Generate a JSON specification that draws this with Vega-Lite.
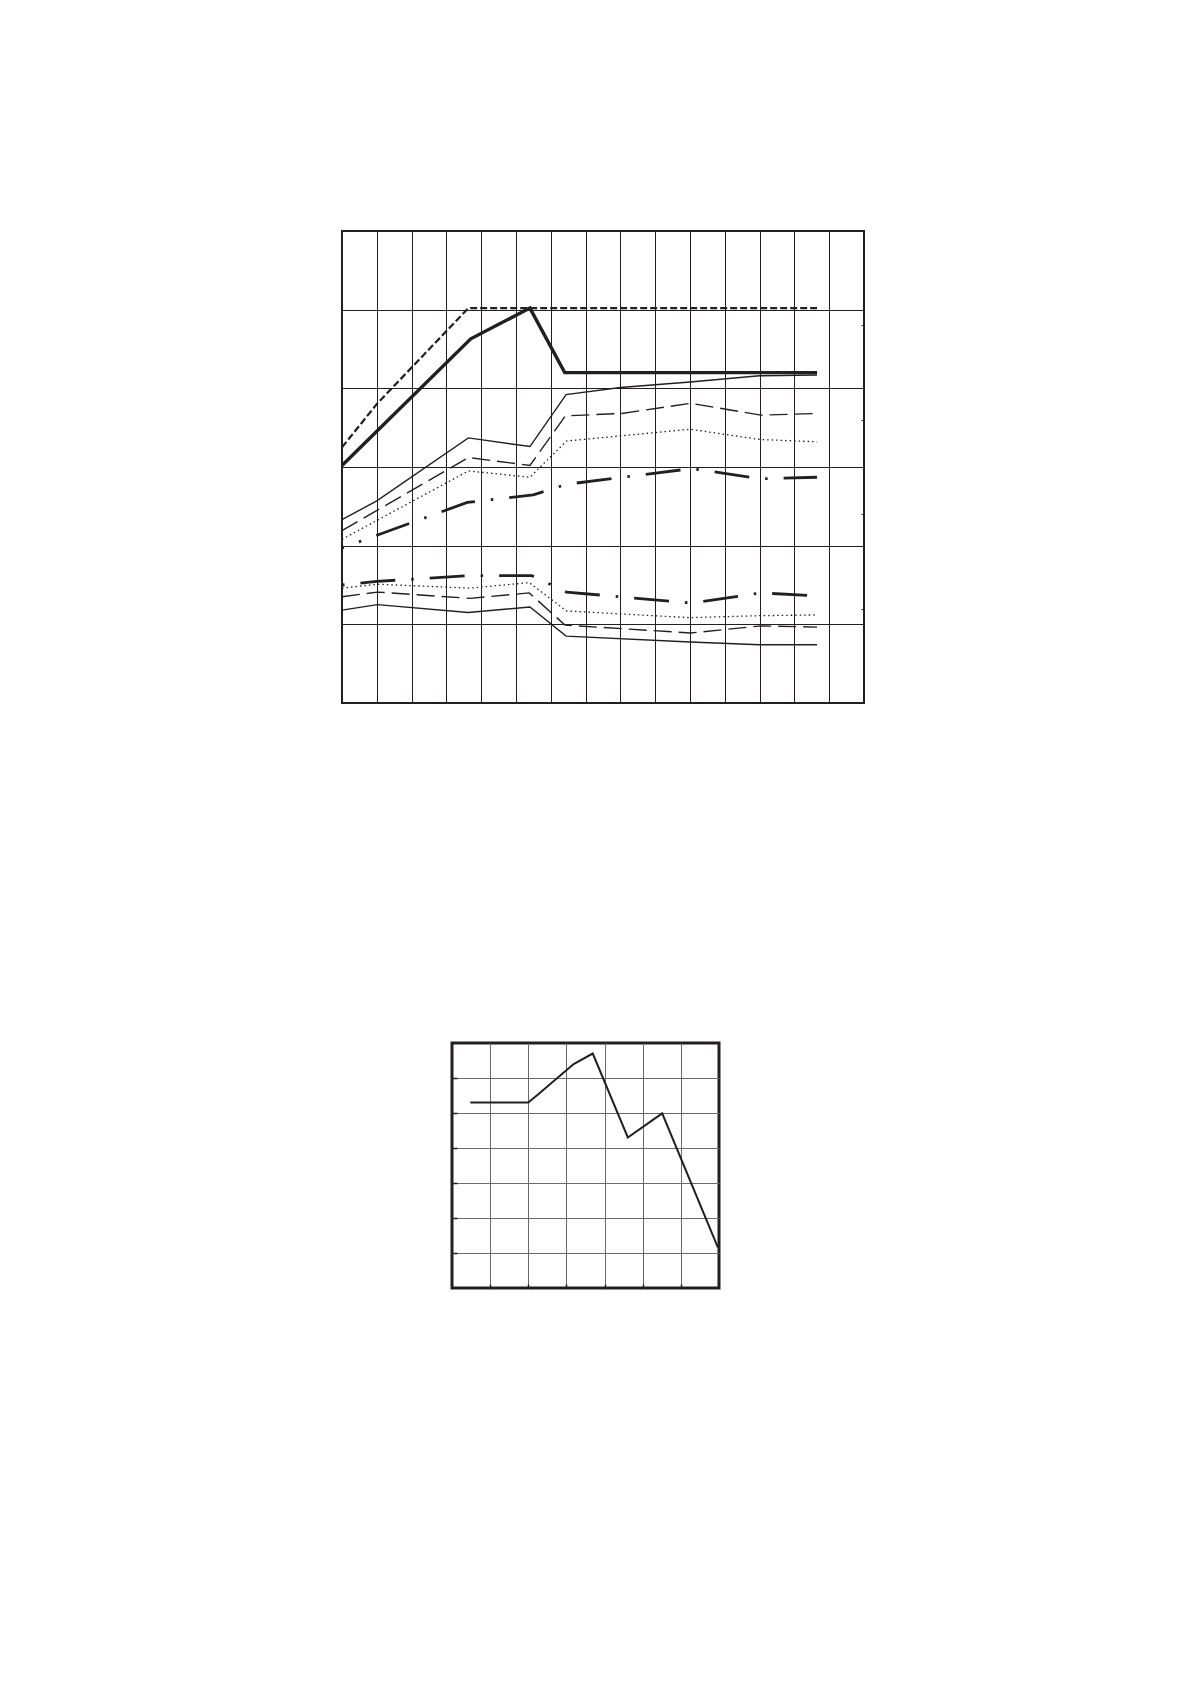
{
  "$schema": "https://vega.github.io/schema/vega-lite/v6.json",
  "background": "white",
  "padding": {"left": 334, "top": 227, "right": 0, "bottom": 0},
  "config": {"view": {"stroke": null}},
  "spacing": 334,
  "datasets": {
    "top": [
      {"s": "T", "x": 0, "y": 3.02}, {"s": "T", "x": 3.7, "y": 4.63}, {"s": "T", "x": 5.4, "y": 5.02}, {"s": "T", "x": 6.4, "y": 4.2}, {"s": "T", "x": 13.65, "y": 4.2},
      {"s": "SD", "x": 0, "y": 3.25}, {"s": "SD", "x": 1, "y": 3.8}, {"s": "SD", "x": 3.63, "y": 5.02}, {"s": "SD", "x": 13.65, "y": 5.02},
      {"s": "U1", "x": 0, "y": 2.33}, {"s": "U1", "x": 1, "y": 2.57}, {"s": "U1", "x": 3.63, "y": 3.37}, {"s": "U1", "x": 5.4, "y": 3.26}, {"s": "U1", "x": 6.44, "y": 3.92}, {"s": "U1", "x": 8, "y": 4.01}, {"s": "U1", "x": 10, "y": 4.08}, {"s": "U1", "x": 12, "y": 4.16}, {"s": "U1", "x": 13.65, "y": 4.17},
      {"s": "U2", "x": 0, "y": 2.19}, {"s": "U2", "x": 3.63, "y": 3.12}, {"s": "U2", "x": 5.4, "y": 3.02}, {"s": "U2", "x": 6.42, "y": 3.65}, {"s": "U2", "x": 8.04, "y": 3.68}, {"s": "U2", "x": 10.02, "y": 3.81}, {"s": "U2", "x": 12.03, "y": 3.66}, {"s": "U2", "x": 13.65, "y": 3.68},
      {"s": "U3", "x": 0, "y": 2.08}, {"s": "U3", "x": 3.63, "y": 2.95}, {"s": "U3", "x": 5.4, "y": 2.87}, {"s": "U3", "x": 6.45, "y": 3.33}, {"s": "U3", "x": 10, "y": 3.48}, {"s": "U3", "x": 12, "y": 3.35}, {"s": "U3", "x": 13.65, "y": 3.32},
      {"s": "U4", "x": 0, "y": 1.97}, {"s": "U4", "x": 3.6, "y": 2.55}, {"s": "U4", "x": 5.5, "y": 2.645}, {"s": "U4", "x": 6.45, "y": 2.78}, {"s": "U4", "x": 10.05, "y": 2.98}, {"s": "U4", "x": 12.05, "y": 2.85}, {"s": "U4", "x": 13.65, "y": 2.87},
      {"s": "L4", "x": 0, "y": 1.5}, {"s": "L4", "x": 1, "y": 1.545}, {"s": "L4", "x": 3.63, "y": 1.62}, {"s": "L4", "x": 5.45, "y": 1.62}, {"s": "L4", "x": 6.45, "y": 1.41}, {"s": "L4", "x": 10.05, "y": 1.27}, {"s": "L4", "x": 12.05, "y": 1.4}, {"s": "L4", "x": 13.65, "y": 1.36},
      {"s": "L3", "x": 0, "y": 1.46}, {"s": "L3", "x": 1.02, "y": 1.51}, {"s": "L3", "x": 3.68, "y": 1.46}, {"s": "L3", "x": 5.38, "y": 1.53}, {"s": "L3", "x": 6.45, "y": 1.17}, {"s": "L3", "x": 7.7, "y": 1.14}, {"s": "L3", "x": 10, "y": 1.085}, {"s": "L3", "x": 12, "y": 1.11}, {"s": "L3", "x": 13.65, "y": 1.12},
      {"s": "L2", "x": 0, "y": 1.35}, {"s": "L2", "x": 1.02, "y": 1.41}, {"s": "L2", "x": 3.68, "y": 1.33}, {"s": "L2", "x": 5.38, "y": 1.4}, {"s": "L2", "x": 6.41, "y": 0.99}, {"s": "L2", "x": 10.02, "y": 0.89}, {"s": "L2", "x": 12.03, "y": 0.98}, {"s": "L2", "x": 13.65, "y": 0.965},
      {"s": "L1", "x": 0, "y": 1.18}, {"s": "L1", "x": 1.02, "y": 1.25}, {"s": "L1", "x": 3.63, "y": 1.15}, {"s": "L1", "x": 5.4, "y": 1.22}, {"s": "L1", "x": 6.44, "y": 0.85}, {"s": "L1", "x": 10, "y": 0.775}, {"s": "L1", "x": 12, "y": 0.74}, {"s": "L1", "x": 13.65, "y": 0.74}
    ],
    "bottom": [
      {"x": 0.48, "y": 5.3}, {"x": 2.0, "y": 5.3}, {"x": 2.27, "y": 5.54}, {"x": 3.19, "y": 6.4}, {"x": 3.69, "y": 6.7}, {"x": 4.61, "y": 4.3}, {"x": 5.51, "y": 4.99}, {"x": 6.97, "y": 1.16}
    ],
    "rightScale": [{"r": 0}, {"r": 5}]
  },
  "vconcat": [
    {
      "width": 522,
      "height": 472,
      "view": {"stroke": "#231f20", "strokeWidth": 2},
      "layer": [
        {
          "data": {"name": "top"},
          "encoding": {
            "x": {"field": "x", "type": "quantitative", "scale": {"domain": [0, 15], "nice": false},
              "axis": {"values": [1,2,3,4,5,6,7,8,9,10,11,12,13,14], "grid": true, "gridColor": "#231f20", "gridWidth": 1, "labels": false, "ticks": false, "domain": false, "title": null}},
            "y": {"field": "y", "type": "quantitative", "scale": {"domain": [0, 6], "nice": false},
              "axis": {"values": [1,2,3,4,5], "grid": true, "gridColor": "#231f20", "gridWidth": 1, "labels": false, "ticks": false, "domain": false, "title": null, "minExtent": 0, "maxExtent": 0}}
          },
          "layer": [
            {"transform": [{"filter": {"field": "s", "equal": "SD"}}], "mark": {"type": "line", "color": "#231f20", "strokeWidth": 2.2, "strokeDash": [7, 3]}},
            {"transform": [{"filter": {"field": "s", "equal": "T"}}], "mark": {"type": "line", "color": "#231f20", "strokeWidth": 3.4}},
            {"transform": [{"filter": {"field": "s", "oneOf": ["U1", "L1"]}}], "mark": {"type": "line", "color": "#231f20", "strokeWidth": 1.4}, "encoding": {"detail": {"field": "s"}}},
            {"transform": [{"filter": {"field": "s", "oneOf": ["U2", "L2"]}}], "mark": {"type": "line", "color": "#231f20", "strokeWidth": 1.4, "strokeDash": [18, 7]}, "encoding": {"detail": {"field": "s"}}},
            {"transform": [{"filter": {"field": "s", "oneOf": ["U3", "L3"]}}], "mark": {"type": "line", "color": "#231f20", "strokeWidth": 1.3, "strokeDash": [1.5, 3]}, "encoding": {"detail": {"field": "s"}}},
            {"transform": [{"filter": {"field": "s", "equal": "U4"}}], "mark": {"type": "line", "color": "#231f20", "strokeWidth": 2.8, "strokeDash": [35, 16, 2.5, 16], "strokeDashOffset": 33}},
            {"transform": [{"filter": {"field": "s", "equal": "L4"}}], "mark": {"type": "line", "color": "#231f20", "strokeWidth": 2.8, "strokeDash": [35, 16, 2.5, 16], "strokeDashOffset": 51}}
          ]
        },
        {
          "data": {"name": "rightScale"},
          "mark": {"type": "point", "opacity": 0},
          "encoding": {
            "y": {"field": "r", "type": "quantitative", "scale": {"domain": [0, 5], "nice": false},
              "axis": {"orient": "right", "values": [1, 2, 3, 4], "tickSize": -3, "tickColor": "#231f20", "tickWidth": 1, "labels": false, "domain": false, "grid": false, "title": null, "minExtent": 0, "maxExtent": 0}}
          }
        }
      ],
      "resolve": {"scale": {"y": "independent"}, "axis": {"y": "independent"}}
    },
    {
      "spacing": 0,
      "hconcat": [
        {
          "width": 107,
          "height": 10,
          "data": {"values": []},
          "mark": {"type": "point", "opacity": 0}
        },
        {
          "width": 267,
          "height": 245,
          "view": {"stroke": "#231f20", "strokeWidth": 3},
          "data": {"name": "bottom"},
          "mark": {"type": "line", "color": "#231f20", "strokeWidth": 2},
          "encoding": {
            "x": {"field": "x", "type": "quantitative", "scale": {"domain": [0, 7], "nice": false},
              "axis": {"values": [1,2,3,4,5,6], "grid": true, "gridColor": "#6a6a6a", "gridWidth": 1, "labels": false, "domain": false, "ticks": true, "tickSize": -4, "tickWidth": 1.5, "tickColor": "#231f20", "title": null}},
            "y": {"field": "y", "type": "quantitative", "scale": {"domain": [0, 7], "nice": false},
              "axis": {"values": [1,2,3,4,5,6], "grid": true, "gridColor": "#6a6a6a", "gridWidth": 1, "labels": false, "domain": false, "ticks": true, "tickSize": -5, "tickWidth": 1.5, "tickColor": "#231f20", "title": null, "minExtent": 0, "maxExtent": 0}}
          }
        }
      ]
    }
  ]
}
